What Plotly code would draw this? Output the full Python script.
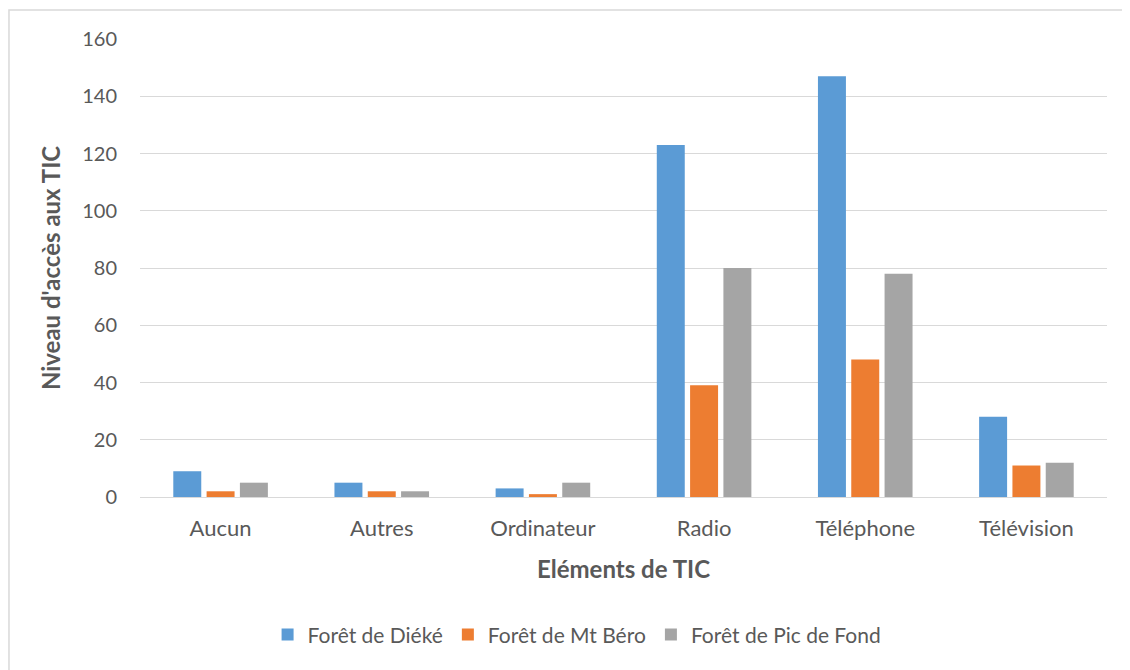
import plotly.graph_objects as go

categories = ["Aucun", "Autres", "Ordinateur", "Radio", "Téléphone", "Télévision"]
dieke = [9, 5, 3, 123, 147, 28]
mt_bero = [2, 2, 1, 39, 48, 11]
pic_de_fond = [5, 2, 5, 80, 78, 12]

series = [
    ("Forêt de Diéké", dieke, "#5B9BD5"),
    ("Forêt de Mt Béro", mt_bero, "#ED7D31"),
    ("Forêt de Pic de Fond", pic_de_fond, "#A5A5A5"),
]

TEXT = "#595959"
FONT = "Lato, Open Sans, Arial"

fig = go.Figure()
for name, vals, color in series:
    fig.add_trace(go.Bar(x=categories, y=vals, name=name, marker=dict(color=color, line=dict(width=0))))

fig.update_layout(
    width=1122,
    height=662,
    barmode="group",
    bargap=0.38,
    bargroupgap=0.16,
    paper_bgcolor="white",
    plot_bgcolor="white",
    font=dict(family=FONT, color=TEXT, size=20),
    margin=dict(l=132, r=23, t=31, b=173),
    xaxis=dict(
        title=dict(text="<b>Eléments de TIC</b>", font=dict(size=24, color=TEXT), standoff=20),
        tickfont=dict(size=22, color=TEXT),
        showline=True,
        linecolor="#D9D9D9",
        linewidth=1,
        ticks="outside",
        ticklen=12,
        tickcolor="rgba(0,0,0,0)",
    ),
    yaxis=dict(
        title=dict(text="<b>Niveau d'accès aux TIC</b>", font=dict(size=24, color=TEXT), standoff=14),
        range=[0, 160],
        dtick=20,
        tickfont=dict(size=20, color=TEXT),
        gridcolor="#D9D9D9",
        gridwidth=1,
        zeroline=False,
        ticks="outside",
        ticklen=18,
        tickcolor="rgba(0,0,0,0)",
    ),
    legend=dict(
        orientation="h",
        x=0.452,
        xanchor="center",
        y=-0.301,
        yanchor="middle",
        font=dict(size=21, color=TEXT),
        itemwidth=30,
        traceorder="normal",
    ),
    shapes=[
        dict(type="rect", xref="paper", yref="paper",
             x0=-0.1355, x1=1.06, y0=-0.45, y1=1.0633,
             line=dict(color="#D9D9D9", width=1.5), fillcolor="rgba(0,0,0,0)"),
    ],
)

fig.write_html("out.html")
